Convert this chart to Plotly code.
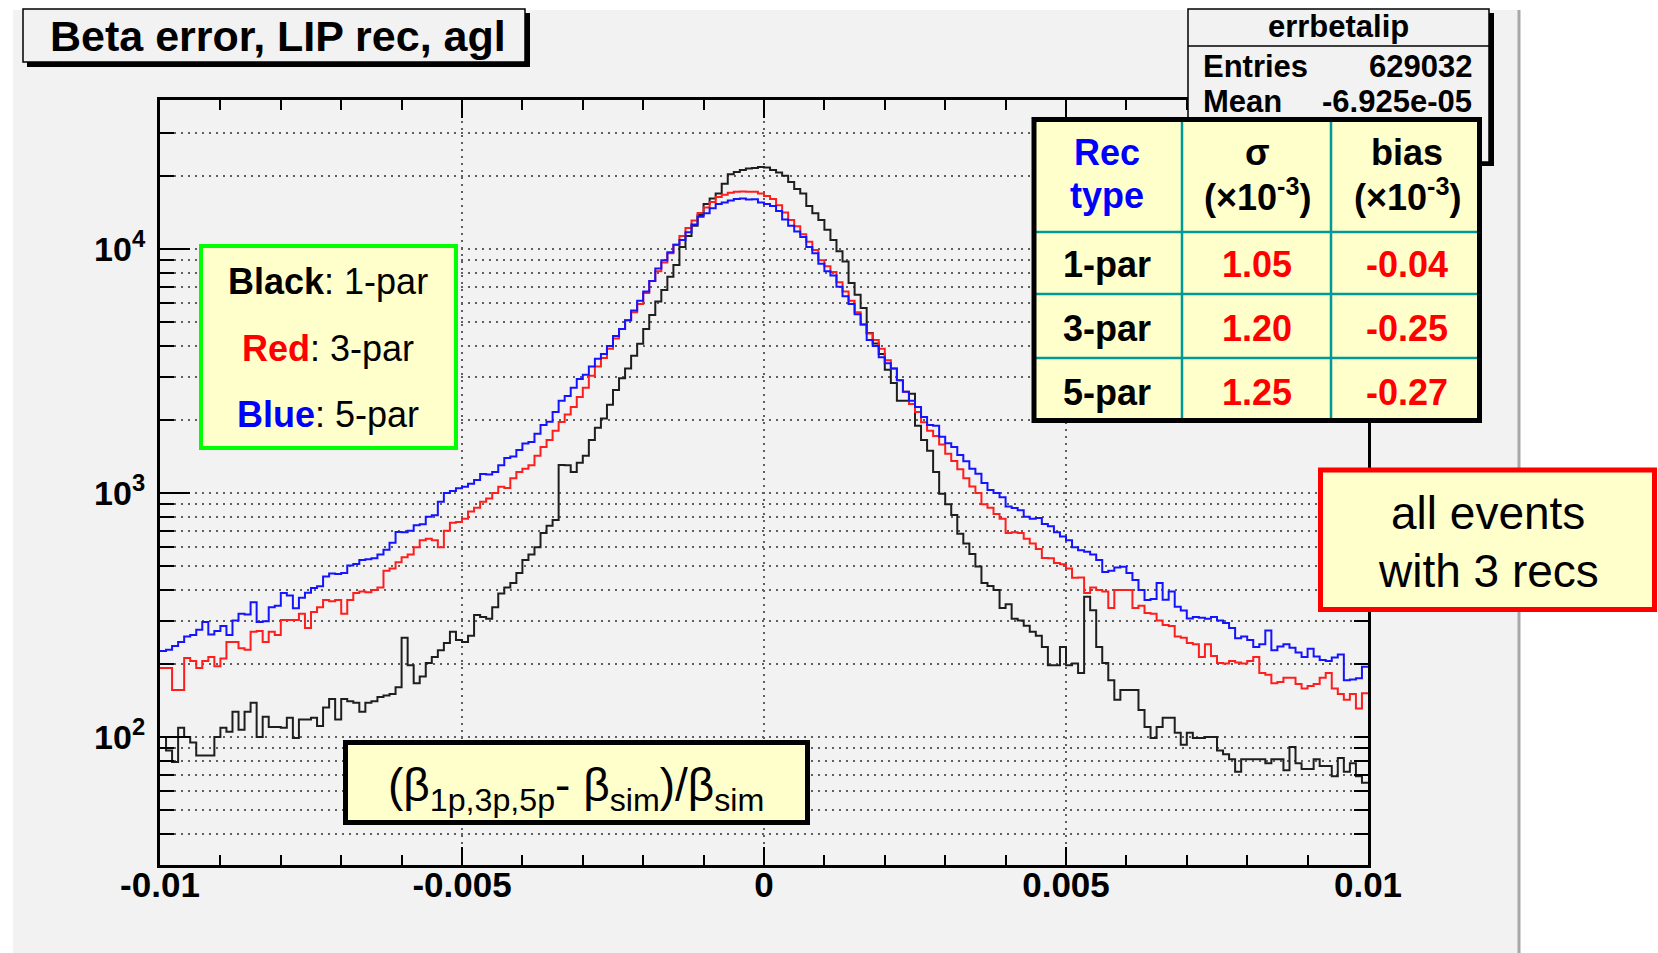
import numpy as np
import plotly.graph_objects as go

# ---------------- data ----------------
x_min, x_max = -0.01, 0.01
n_bins = 200

blue_5par = [
    225, 228, 236, 245, 258, 262, 275, 296, 263, 272,
    285, 262, 300, 320, 318, 357, 296, 298, 340, 345,
    389, 380, 337, 372, 390, 408, 415, 455, 468, 466,
    470, 505, 512, 531, 535, 540, 560, 585, 625, 692,
    690, 700, 738, 745, 800, 810, 920, 1000, 1020, 1047,
    1060, 1090, 1130, 1197, 1190, 1220, 1300, 1390, 1410, 1500,
    1594, 1620, 1750, 1900, 1960, 2150, 2388, 2500, 2700, 2932,
    3050, 3300, 3550, 3715, 4000, 4400, 4700, 5100, 5600, 6140,
    6700, 7400, 8313, 9000, 9700, 10400, 10900, 11700, 12600, 13550,
    14000, 14700, 15280, 15500, 15800, 16030, 16100, 15950, 16000, 15500,
    15280, 15000, 14300, 13200, 12450, 11800, 11200, 10190, 9600, 8700,
    8100, 7780, 7000, 6400, 5950, 5400, 4900, 4240, 4000, 3600,
    3400, 3236, 2900, 2600, 2388, 2250, 2050, 1900, 1888, 1700,
    1600, 1545, 1430, 1350, 1258, 1200, 1100, 1028, 1000, 960,
    880, 869, 850, 800, 785, 790, 746, 730, 690, 663,
    640, 600, 583, 575, 560, 531, 475, 480, 495, 499,
    470, 440, 400, 364, 368, 428, 365, 395, 342, 330,
    306, 310, 308, 305, 310, 300, 293, 280, 254, 258,
    250, 234, 240, 273, 227, 235, 240, 232, 222, 213,
    230, 214, 207, 205, 212, 218, 171, 172, 174, 194,
]

red_3par = [
    192, 192, 156, 156, 211, 205, 192, 205, 213, 195,
    210, 245, 245, 231, 228, 270, 272, 245, 270, 262,
    302, 302, 302, 320, 280, 325, 340, 364, 360, 364,
    320, 364, 389, 395, 392, 400, 410, 480, 490, 520,
    546, 560, 600, 640, 650, 640, 600, 700, 755, 760,
    785, 840, 870, 920, 950, 1000, 1060, 1048, 1150, 1220,
    1258, 1300, 1420, 1545, 1650, 1800, 1955, 2100, 2250, 2473,
    2700, 3025, 3300, 3573, 3900, 4300, 4700, 5100, 5500, 5954,
    6600, 7400, 8100, 8800, 9600, 10400, 11300, 12200, 13100, 14040,
    14800, 15600, 16330, 16700, 17000, 17150, 17200, 17150, 17150, 16870,
    16500, 16030, 15100, 14100, 13150, 12400, 11500, 10700, 9900, 9000,
    8500, 8050, 7300, 6700, 6140, 5500, 4900, 4500, 4240, 3900,
    3500, 3236, 2900, 2600, 2317, 2150, 1950, 1800, 1714, 1580,
    1450, 1353, 1250, 1150, 1064, 1000, 900, 870, 820, 785,
    686, 690, 686, 650, 621, 590, 542, 540, 516, 510,
    490, 449, 450, 389, 410, 400, 395, 338, 400, 400,
    400, 338, 345, 322, 320, 300, 288, 285, 258, 255,
    243, 240, 213, 240, 215, 201, 200, 205, 202, 200,
    205, 213, 183, 180, 166, 168, 175, 175, 165, 158,
    162, 165, 175, 183, 158, 150, 142, 150, 131, 151,
]

black_1par = [
    100, 88, 79, 109, 100, 95, 84, 84, 84, 100,
    109, 105, 127, 107, 127, 138, 100, 121, 110, 110,
    109, 120, 99, 118, 118, 120, 111, 132, 143, 118,
    143, 140, 138, 127, 138, 140, 146, 148, 150, 160,
    255, 197, 166, 177, 201, 213, 227, 243, 270, 250,
    245, 260, 316, 310, 305, 340, 387, 410, 428, 470,
    531, 560, 600, 686, 735, 776, 1303, 1300, 1220, 1330,
    1420, 1650, 1850, 2018, 2300, 2641, 2950, 3236, 3650, 4093,
    4700, 5370, 6100, 6790, 7700, 8590, 10190, 11300, 12450, 13800,
    15280, 16100, 16870, 18500, 20270, 20700, 21100, 21380, 21500, 21700,
    21600, 21080, 20600, 19970, 18800, 17600, 16870, 15000, 14000, 13150,
    12000, 10900, 9800, 8890, 7260, 6500, 5730, 4530, 4100, 3715,
    3200, 2825, 2388, 2388, 2553, 1888, 1650, 1490, 1220, 993,
    900, 813, 680, 621, 562, 500, 428, 416, 400, 338,
    350, 305, 300, 286, 270, 260, 234, 197, 197, 234,
    197, 200, 183, 376, 331, 234, 201, 171, 142, 156,
    156, 156, 129, 110, 99, 110, 120, 120, 104, 93,
    104, 99, 99, 100, 100, 88, 85, 81, 72, 81,
    81, 81, 81, 78, 81, 81, 73, 91, 78, 74,
    74, 81, 76, 76, 69, 82, 72, 78, 69, 65,
]

x_tick_vals = [-0.01, -0.005, 0, 0.005, 0.01]
x_tick_text = ["-0.01", "-0.005", "0", "0.005", "0.01"]

y_grid_vals = [40, 50, 60, 70, 80, 90,
               100, 200, 300, 400, 500, 600, 700, 800, 900,
               1000, 2000, 3000, 4000, 5000, 6000, 7000, 8000, 9000,
               10000, 20000, 30000]
y_decade_labels = {100: "10<sup>2</sup>", 1000: "10<sup>3</sup>", 10000: "10<sup>4</sup>"}
y_log_range = [1.4754, 4.6107]

table_rows = ["1-par", "3-par", "5-par"]
table_sigma = ["1.05", "1.20", "1.25"]
table_bias = ["-0.04", "-0.25", "-0.27"]

stats_name = "errbetalip"
stats_entries = "629032"
stats_mean = "-6.925e-05"

# ---------------- geometry helpers (pixels -> paper) ----------------
W, H = 1658, 953
L, R, T, B = 160, 1368, 100, 865


def fx(p):
    return (p - L) / (R - L)


def fy(p):
    return (B - p) / (B - T)


def fy_val(v):
    return (np.log10(v) - y_log_range[0]) / (y_log_range[1] - y_log_range[0])


FONT = "Liberation Sans, Arial, Helvetica, sans-serif"

fig = go.Figure()

edges = np.linspace(x_min, x_max, n_bins + 1)
for vals, col in [(black_1par, "rgb(30,30,30)"),
                  (red_3par, "rgb(255,30,30)"),
                  (blue_5par, "rgb(20,20,255)")]:
    fig.add_trace(go.Scatter(
        x=edges, y=list(vals) + [vals[-1]], mode="lines",
        line=dict(color=col, width=2, shape="hv"),
        hoverinfo="skip", showlegend=False))

grid_col = "rgb(95,95,95)"
grid_dash = "2px,5px"

fig.update_layout(
    width=W, height=H, autosize=False,
    margin=dict(l=L, r=W - R, t=T, b=H - B, pad=0),
    paper_bgcolor="white", plot_bgcolor="#f2f2f2",
    showlegend=False, hovermode=False,
    xaxis=dict(
        range=[x_min, x_max], tickmode="array", tickvals=x_tick_vals, ticktext=x_tick_text,
        ticks="inside", ticklen=18, tickwidth=2, tickcolor="black",
        showgrid=True, gridcolor=grid_col, griddash=grid_dash, gridwidth=2,
        showline=True, linewidth=3, linecolor="black", mirror="ticks",
        zeroline=False, ticklabelstandoff=-13,
        tickfont=dict(family=FONT, size=35, color="black", weight="bold"),
        minor=dict(dtick=0.001, tick0=0, ticks="inside", ticklen=10, tickwidth=2,
                   tickcolor="black", showgrid=False),
    ),
    yaxis=dict(
        type="log", range=y_log_range, tickmode="array", tickvals=y_grid_vals,
        ticktext=[y_decade_labels.get(v, "") for v in y_grid_vals],
        ticks="inside", ticklen=14, tickwidth=2, tickcolor="black",
        showgrid=True, gridcolor=grid_col, griddash=grid_dash, gridwidth=2,
        showline=True, linewidth=3, linecolor="black", mirror="ticks",
        zeroline=False, ticklabelstandoff=5,
        tickfont=dict(family=FONT, size=34, color="black", weight="bold"),
    ),
)

shapes = []
# canvas background and its right edge
shapes.append(dict(type="rect", xref="paper", yref="paper", layer="below",
                   x0=fx(13), x1=fx(1518), y0=fy(953), y1=fy(10),
                   fillcolor="#f2f2f2", line=dict(width=0)))
shapes.append(dict(type="line", xref="paper", yref="paper", layer="below",
                   x0=fx(1519), x1=fx(1519), y0=fy(953), y1=fy(10),
                   line=dict(color="#a8a8a8", width=3)))
# long decade ticks
for v in y_decade_labels:
    shapes.append(dict(type="line", xref="paper", yref="paper", layer="above",
                       x0=0, x1=fx(L + 30), y0=fy_val(v), y1=fy_val(v),
                       line=dict(color="black", width=2)))


def rect(x0, y0, x1, y1, fill=None, lc=None, lw=0):
    d = dict(type="rect", xref="paper", yref="paper", layer="above",
             x0=fx(x0), x1=fx(x1), y0=fy(y1), y1=fy(y0))
    d["fillcolor"] = fill if fill else "rgba(0,0,0,0)"
    d["line"] = dict(color=lc if lc else "rgba(0,0,0,0)", width=lw)
    return d


def hline(x0, x1, y, col, w):
    return dict(type="line", xref="paper", yref="paper", layer="above",
                x0=fx(x0), x1=fx(x1), y0=fy(y), y1=fy(y), line=dict(color=col, width=w))


def vline(x, y0, y1, col, w):
    return dict(type="line", xref="paper", yref="paper", layer="above",
                x0=fx(x), x1=fx(x), y0=fy(y0), y1=fy(y1), line=dict(color=col, width=w))


# title box with shadow
shapes.append(rect(27, 13, 530, 67, fill="black"))
shapes.append(rect(23, 9, 525, 62, fill="#f2f2f2", lc="black", lw=1.5))
# stats box with shadow
shapes.append(rect(1192, 13, 1494, 166, fill="black"))
shapes.append(rect(1188, 9, 1489, 162, fill="#f2f2f2", lc="black", lw=1.5))
shapes.append(hline(1188, 1489, 46, "black", 1.5))
# table
yel = "#ffffcc"
teal = "#009999"
shapes.append(rect(1033, 118, 1481, 422, fill=yel))
for xl in (1182, 1331):
    shapes.append(vline(xl, 118, 422, teal, 2.5))
for yl in (232, 294, 358):
    shapes.append(hline(1033, 1481, yl, teal, 2.5))
shapes.append(rect(1034, 119.5, 1479.5, 420.5, lc="black", lw=5))
# legend box (green)
shapes.append(rect(201, 246, 456, 448, fill=yel, lc="#00ff00", lw=4))
# formula box
shapes.append(rect(345.5, 742.5, 807.5, 822.5, fill=yel, lc="black", lw=5))
# red box
shapes.append(rect(1320.5, 470, 1654.5, 609.5, fill=yel, lc="#ff0000", lw=5))

fig.update_layout(shapes=shapes)

anns = []


def ann(text, x, y, size, color="black", bold=False, xanchor="center"):
    anns.append(dict(text=text, x=fx(x), y=fy(y), xref="paper", yref="paper",
                     xanchor=xanchor, yanchor="middle", showarrow=False,
                     font=dict(family=FONT, size=size, color=color,
                               weight="bold" if bold else "normal")))


ann("Beta error, LIP rec, agl", 278, 36, 43, bold=True)

ann(stats_name, 1338, 27, 31, bold=True)
ann("Entries", 1201, 67, 31, bold=True, xanchor="left")
ann(stats_entries, 1474, 67, 31, bold=True, xanchor="right")
ann("Mean", 1201, 101, 31, bold=True, xanchor="left")
ann(stats_mean, 1474, 101, 31, bold=True, xanchor="right")

col_x = [1107, 1257, 1407]
ann("Rec", col_x[0], 152, 36, color="#0000ff", bold=True)
ann("type", col_x[0], 195, 36, color="#0000ff", bold=True)
ann("\u03c3", col_x[1], 152, 36, bold=True)
ann("(\u00d710<sup>-3</sup>)", col_x[1], 195, 36, bold=True)
ann("bias", col_x[2], 152, 36, bold=True)
ann("(\u00d710<sup>-3</sup>)", col_x[2], 195, 36, bold=True)
row_y = [264, 328, 392]
for name, s, b, yy in zip(table_rows, table_sigma, table_bias, row_y):
    ann(name, col_x[0], yy, 36, bold=True)
    ann(s, col_x[1], yy, 36, color="#ff0000", bold=True)
    ann(b, col_x[2], yy, 36, color="#ff0000", bold=True)

ann("<b>Black</b>: 1-par", 328, 281, 36)
ann('<span style="color:#ff0000"><b>Red</b></span>: 3-par', 328, 348, 36)
ann('<span style="color:#0000ff"><b>Blue</b></span>: 5-par', 328, 414, 36)

ann("(\u03b2<sub>1p,3p,5p</sub>- \u03b2<sub>sim</sub>)/\u03b2<sub>sim</sub>", 576, 788, 46)

ann("all events", 1488, 513, 46)
ann("with 3 recs", 1488, 571, 46)

fig.update_layout(annotations=anns)

fig.write_html("out.html", config={"displayModeBar": False})
